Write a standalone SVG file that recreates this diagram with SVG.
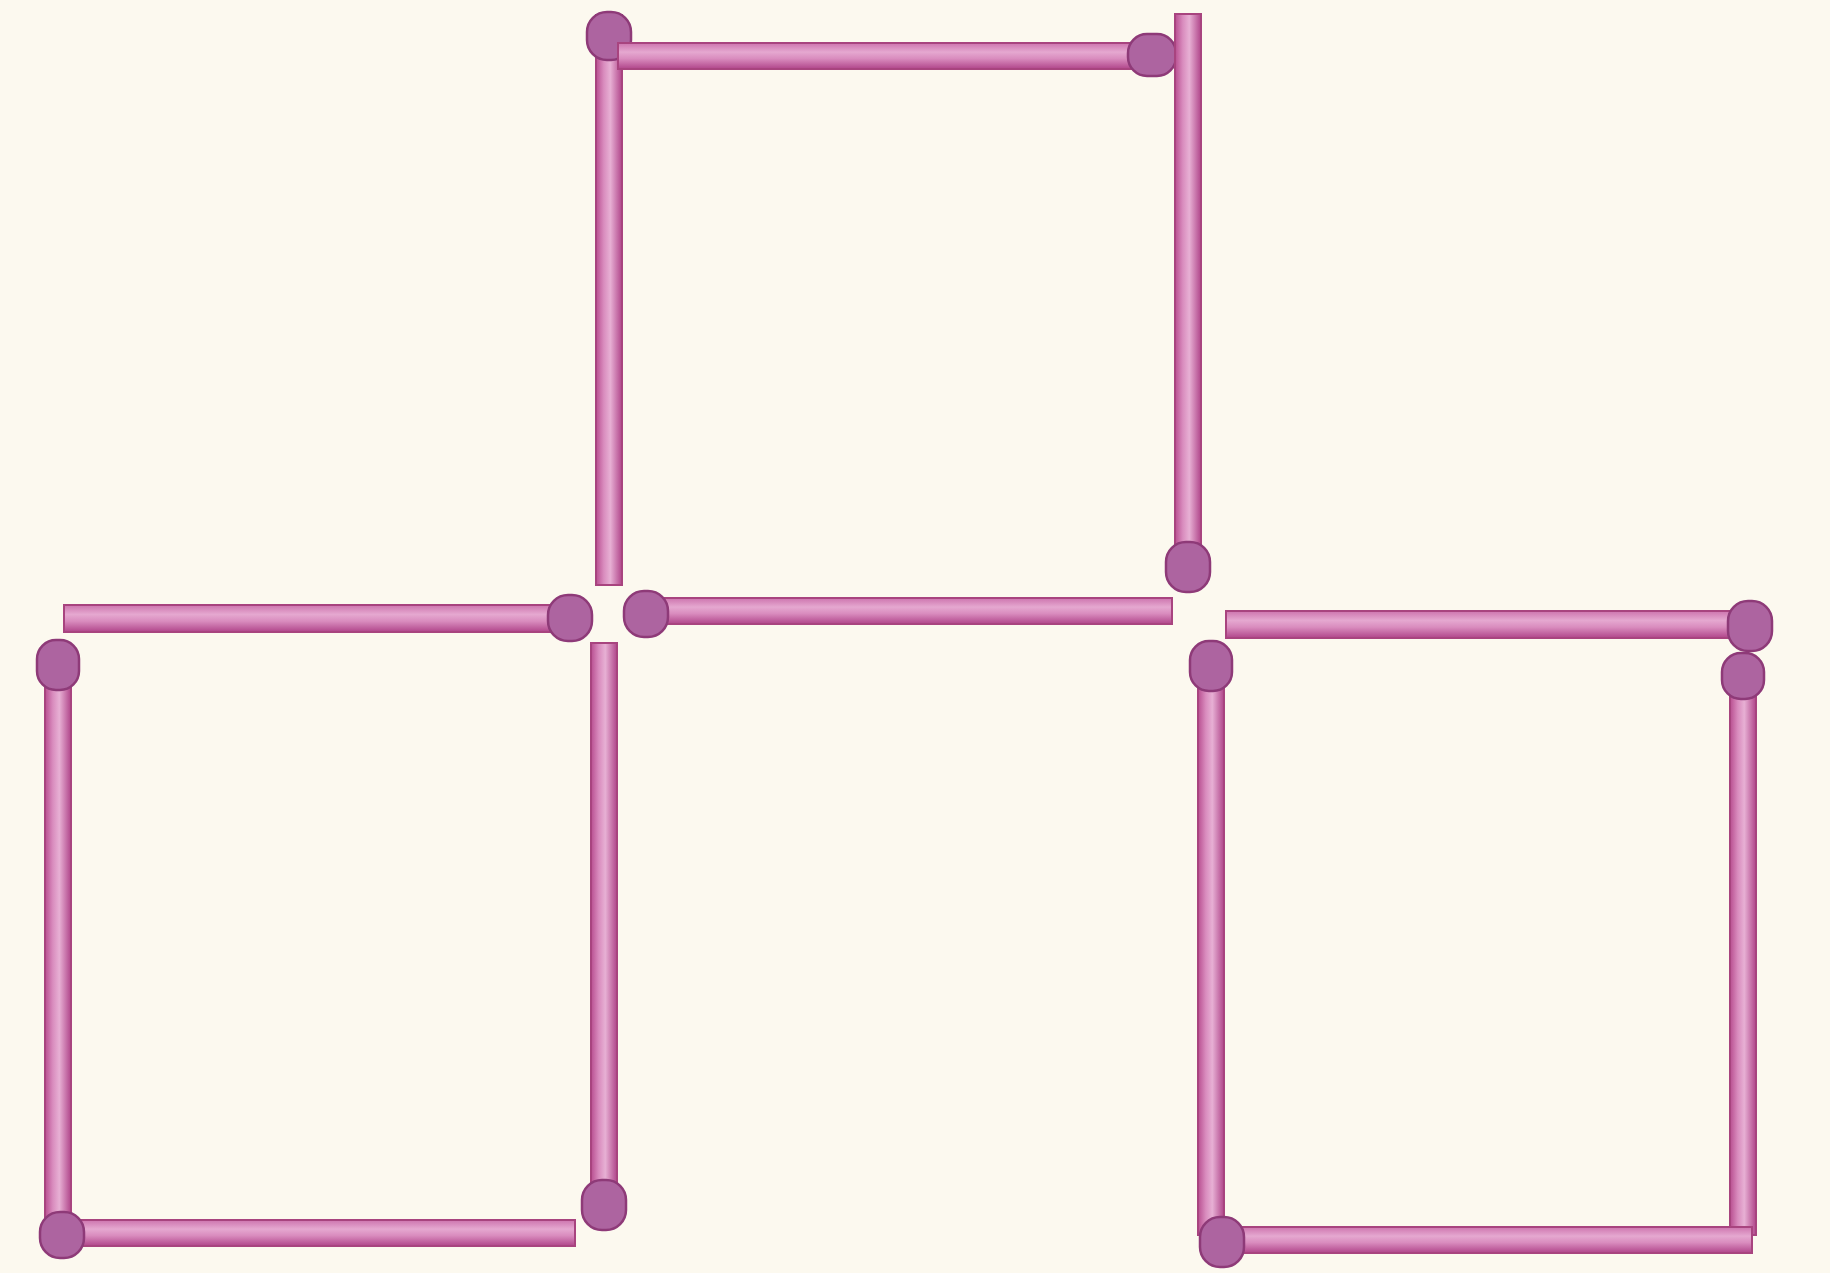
<svg xmlns="http://www.w3.org/2000/svg" width="1830" height="1273" viewBox="0 0 1830 1273">
<defs>
<style>
.stick{fill:url(#gv);stroke:#a8447f;stroke-width:2}
.stickh{fill:url(#gh);stroke:#a8447f;stroke-width:2}
.head{fill:#ad64a0;stroke:#8e3a78;stroke-width:2.5}
</style>
<linearGradient id="gv" x1="0" y1="0" x2="1" y2="0">
<stop offset="0" stop-color="#b84e90"/><stop offset="0.3" stop-color="#d98cbe"/><stop offset="0.55" stop-color="#e7b0d4"/><stop offset="1" stop-color="#b0458a"/>
</linearGradient>
<linearGradient id="gh" x1="0" y1="0" x2="0" y2="1">
<stop offset="0" stop-color="#cd74ae"/><stop offset="0.35" stop-color="#e5a8d0"/><stop offset="0.6" stop-color="#d98cbe"/><stop offset="1" stop-color="#b0458a"/>
</linearGradient>
</defs>
<rect width="1830" height="1273" fill="#fcf9ef"/>
<g id="top-square">
<g id="t-left"><rect class="stick" x="596" y="15" width="26" height="570"/><rect class="head" x="587" y="12" width="44" height="48" rx="20"/></g>
<g id="t-top"><rect class="stickh" x="618" y="43" width="550" height="26"/><rect class="head" x="1128" y="34" width="48" height="42" rx="19"/></g>
<g id="t-right"><rect class="stick" x="1175" y="14" width="26" height="572"/><rect class="head" x="1166" y="542" width="44" height="50" rx="20"/></g>
<g id="t-bottom"><rect class="stickh" x="635" y="598" width="537" height="26"/><rect class="head" x="624" y="591" width="44" height="46" rx="20"/></g>
</g>
<g id="left-square">
<g id="l-top"><rect class="stickh" x="64" y="605" width="516" height="27"/><rect class="head" x="548" y="595" width="44" height="46" rx="20"/></g>
<g id="l-left"><rect class="stick" x="45" y="648" width="26" height="590"/><rect class="head" x="37" y="640" width="42" height="50" rx="19"/></g>
<g id="l-right"><rect class="stick" x="591" y="643" width="26" height="580"/><rect class="head" x="582" y="1180" width="44" height="50" rx="20"/></g>
<g id="l-bottom"><rect class="stickh" x="50" y="1220" width="525" height="26"/><rect class="head" x="40" y="1212" width="44" height="46" rx="20"/></g>
</g>
<g id="right-square">
<g id="r-top"><rect class="stickh" x="1226" y="611" width="530" height="27"/><rect class="head" x="1728" y="601" width="44" height="50" rx="20"/></g>
<g id="r-left"><rect class="stick" x="1198" y="645" width="26" height="590"/><rect class="head" x="1190" y="641" width="42" height="50" rx="19"/></g>
<g id="r-right"><rect class="stick" x="1730" y="660" width="26" height="575"/><rect class="head" x="1722" y="653" width="42" height="46" rx="19"/></g>
<g id="r-bottom"><rect class="stickh" x="1212" y="1227" width="540" height="26"/><rect class="head" x="1200" y="1217" width="44" height="50" rx="20"/></g>
</g>
<g id="connectors"/>
</svg>
